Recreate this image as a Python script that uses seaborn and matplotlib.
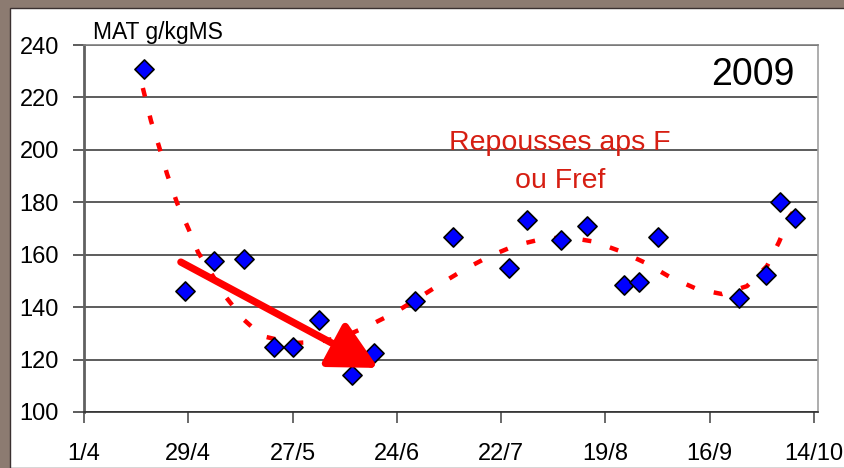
import pandas as pd
import numpy as np
import seaborn as sns
import matplotlib.pyplot as plt
from matplotlib.patches import Rectangle

# measured points (date, MAT g/kgMS)
sample_dates = ["2009-04-17", "2009-04-28", "2009-05-06", "2009-05-14", "2009-05-22",
                "2009-05-27", "2009-06-03", "2009-06-12", "2009-06-18", "2009-06-29",
                "2009-07-09", "2009-07-24", "2009-07-29", "2009-08-07", "2009-08-14",
                "2009-08-24", "2009-08-28", "2009-09-02", "2009-09-24", "2009-10-01",
                "2009-10-05", "2009-10-09"]
mat_values = [231, 146, 157.6, 158.4, 124.8, 124.8, 135.1, 114.1, 122.5, 142.3,
              166.7, 154.9, 173.2, 165.6, 171, 148.4, 149.6, 166.7, 143.5, 152.2,
              180.1, 174]

# dotted trend curve (days after 1/4, value)
trend_days = [15.8, 18.0, 20.1, 22.3, 25.0, 28.2, 30.6, 33.6, 37.9, 43.0, 47.8, 55.8,
              62.6, 69.5, 76.3, 83.2, 89.4, 96.1, 102.3, 109.0, 116.0, 123.0, 129.7,
              136.9, 143.9, 150.9, 157.3, 164.6, 171.3, 178.0, 183.4, 186.6, 189.6, 190.4]
trend_vals = [223.6, 211.0, 201.5, 190.8, 179.7, 169.4, 161.0, 154.2, 144.2, 135.1,
              129.0, 126.3, 126.7, 128.6, 132.8, 137.7, 143.1, 149.2, 154.5, 159.5,
              163.6, 166.0, 166.7, 165.0, 161.4, 156.8, 151.5, 146.9, 145.0, 148.0,
              155.7, 164.8, 174.8, 176.3]

tick_dates = ["2009-04-01", "2009-04-29", "2009-05-27", "2009-06-24", "2009-07-22",
              "2009-08-19", "2009-09-16", "2009-10-14"]
tick_labels = ["1/4", "29/4", "27/5", "24/6", "22/7", "19/8", "16/9", "14/10"]

start = pd.Timestamp("2009-04-01")
df = pd.DataFrame({"date": pd.to_datetime(sample_dates), "mat": mat_values})
trend_df = pd.DataFrame({"date": start + pd.to_timedelta(trend_days, unit="D"),
                         "mat": trend_vals})

sns.set_theme(style="white")
plt.rcParams['font.family'] = ['Liberation Sans', 'DejaVu Sans']

fig = plt.figure(figsize=(8.45, 4.68), dpi=100)
fig.patch.set_facecolor("#8c7b71")
fig.patches.append(Rectangle((10 / 845, 0), 1, 1 - 8 / 468, transform=fig.transFigure,
                             facecolor="white", edgecolor="#3a3030", lw=1, zorder=-10))

ax = fig.add_axes([84 / 845, 56 / 468, 734 / 845, 367 / 468])
ax.set_facecolor("white")

ax.plot(trend_df["date"], trend_df["mat"], color="red", lw=3.2,
        linestyle=(0, (2.0, 4.4)), zorder=3)

sns.scatterplot(data=df, x="date", y="mat", marker="D", s=95, color="#0000ff",
                edgecolor="black", linewidth=1.2, ax=ax, zorder=4)

ax.annotate("", xy=(pd.Timestamp("2009-06-19"), 116.8),
            xytext=(pd.Timestamp("2009-04-27"), 157.2),
            arrowprops=dict(arrowstyle="-|>,head_length=0.7,head_width=0.36",
                            color="red", lw=5.2, mutation_scale=42, shrinkA=0, shrinkB=0),
            zorder=5)

ax.set_xlim(pd.Timestamp("2009-04-01"), pd.Timestamp("2009-10-15 02:00"))
ax.set_ylim(100, 240)
ax.set_yticks(np.arange(100, 241, 20))
ax.set_xticks(pd.to_datetime(tick_dates))
ax.set_xticklabels(tick_labels)
ax.yaxis.grid(True, color="#303030", lw=1.1)
ax.set_axisbelow(True)
ax.tick_params(axis="x", direction="out", length=8, width=1.2, color="#505050",
               pad=14, labelsize=17, labelcolor="black", bottom=True)
ax.tick_params(axis="y", direction="out", length=8, width=1.1, color="#303030",
               pad=10, labelsize=17, labelcolor="black", left=True)
ax.set_xlabel("")
ax.set_ylabel("")
for side, col, w in [("left", "#606060", 2), ("right", "#a0a0a0", 1.2),
                     ("top", "#808080", 1.2), ("bottom", "#303030", 1.2)]:
    ax.spines[side].set_color(col)
    ax.spines[side].set_linewidth(w)
    ax.spines[side].set_visible(True)

fig.text(93 / 845, 1 - 39 / 468, "MAT g/kgMS", fontsize=16.5, va="baseline", ha="left",
         color="black")
fig.text(795 / 845, 1 - 85 / 468, "2009", fontsize=27, va="baseline", ha="right",
         color="black")
fig.text(560 / 845, 1 - 150 / 468, "Repousses aps F", fontsize=20.5, color="#d61e12",
         va="baseline", ha="center")
fig.text(560 / 845, 1 - 188 / 468, "ou Fref", fontsize=20.5, color="#d61e12",
         va="baseline", ha="center")

fig.savefig("out.png", dpi=100)
